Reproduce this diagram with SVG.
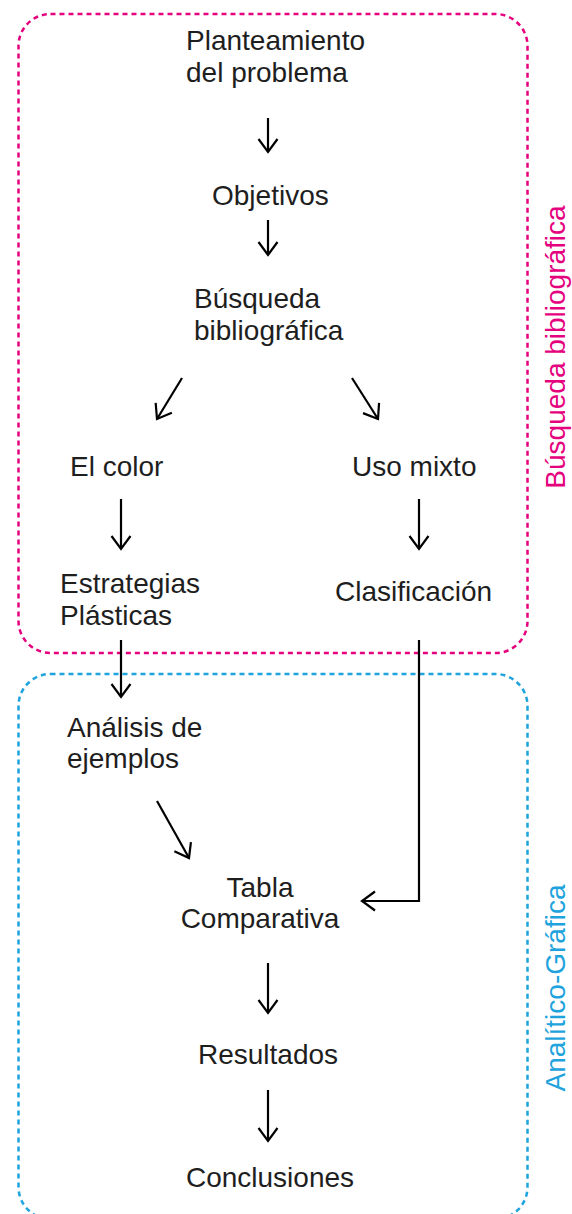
<svg xmlns="http://www.w3.org/2000/svg" width="572" height="1214" viewBox="0 0 572 1214">
<style>
.t{font-family:"Liberation Sans",Arial,sans-serif;font-size:28px;fill:#1e1e1e}
.c{stroke:#000;stroke-width:2.2;fill:none;marker-end:url(#ah)}
.box{fill:none;stroke-width:2.5;stroke-dasharray:5 4}
</style>
<defs>
<marker id="ah" markerUnits="userSpaceOnUse" viewBox="-16 -12 18 24" refX="0" refY="0" markerWidth="18" markerHeight="24" orient="auto" overflow="visible">
<path d="M-13,-9.5 L0,0 L-13,9.5" fill="none" stroke="#000" stroke-width="2.2"/>
</marker>
</defs>
<rect x="0" y="0" width="572" height="1214" fill="#fff"/>
<g id="group-busqueda">
<rect class="box" x="18.5" y="14" width="509" height="639" rx="32" stroke="#e5007e"/>
<text transform="translate(565,347) rotate(-90)" text-anchor="middle" style="font-family:'Liberation Sans',Arial,sans-serif;font-size:28px;fill:#e5007e">Búsqueda bibliográfica</text>
</g>
<g id="group-analitico">
<rect class="box" x="18.5" y="674" width="509" height="545" rx="32" stroke="#1ea3dd"/>
<text transform="translate(565,988) rotate(-90)" text-anchor="middle" style="font-family:'Liberation Sans',Arial,sans-serif;font-size:28px;fill:#1ea3dd">Analítico-Gráfica</text>
</g>
<g id="n-planteamiento"><text class="t" x="186" y="50">Planteamiento</text><text class="t" x="186" y="82">del problema</text></g>
<g id="n-objetivos"><text class="t" x="212" y="205">Objetivos</text></g>
<g id="n-busqueda"><text class="t" x="194" y="308">Búsqueda</text><text class="t" x="194" y="340">bibliográfica</text></g>
<g id="n-color"><text class="t" x="70" y="476">El color</text></g>
<g id="n-uso"><text class="t" x="352" y="476">Uso mixto</text></g>
<g id="n-estrategias"><text class="t" x="60" y="593">Estrategias</text><text class="t" x="60" y="625">Plásticas</text></g>
<g id="n-clasificacion"><text class="t" x="335" y="601">Clasificación</text></g>
<g id="n-analisis"><text class="t" x="67" y="737">Análisis de</text><text class="t" x="67" y="768">ejemplos</text></g>
<g id="n-tabla"><text class="t" x="260" y="897" text-anchor="middle">Tabla</text><text class="t" x="260" y="928" text-anchor="middle">Comparativa</text></g>
<g id="n-resultados"><text class="t" x="268" y="1064" text-anchor="middle">Resultados</text></g>
<g id="n-conclusiones"><text class="t" x="270" y="1187" text-anchor="middle">Conclusiones</text></g>
<g id="connectors">
<path class="c" d="M268,118 L268,152"/>
<path class="c" d="M268,220 L268,255"/>
<path class="c" d="M182,378 L157,419"/>
<path class="c" d="M352,378 L378,419"/>
<path class="c" d="M121,499 L121,549"/>
<path class="c" d="M419,499 L419,549"/>
<path class="c" d="M121,640 L121,697"/>
<path class="c" d="M419,640 L419,901 L362,901"/>
<path class="c" d="M157,801 L189,858"/>
<path class="c" d="M268,963 L268,1013"/>
<path class="c" d="M268,1090 L268,1141"/>
</g>
</svg>
